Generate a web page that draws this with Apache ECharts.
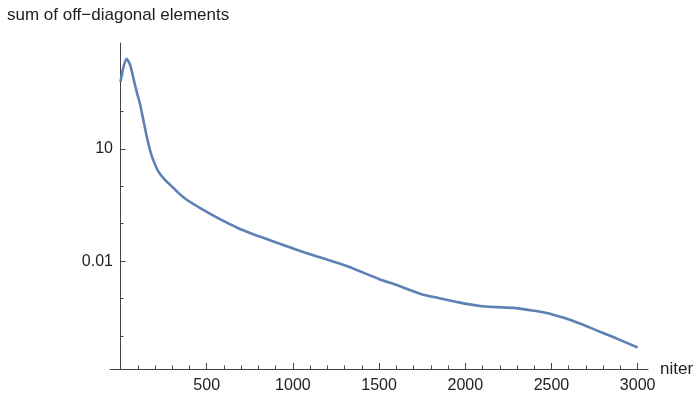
<!DOCTYPE html>
<html>
<head>
<meta charset="utf-8">
<script src="https://cdn.jsdelivr.net/npm/echarts@6/dist/echarts.min.js"></script>
<style>html,body{margin:0;padding:0;background:#fff}#c{width:699px;height:394px}</style>
</head>
<body>
<div id="c"></div>
<script>
const niter = [0, 15, 35, 55, 84, 97, 113, 132, 152, 171, 190, 219, 258, 306, 334, 384, 480, 577, 674, 770, 867, 964, 1043, 1157, 1312, 1505, 1590, 1737, 1850, 1969, 2085, 2180, 2278, 2375, 2472, 2568, 2665, 2762, 2858, 3000];
const offDiagSum = [617, 1413, 2570, 1778, 513, 295, 158, 60.3, 21.4, 9.33, 5.01, 2.51, 1.48, 0.912, 0.676, 0.437, 0.234, 0.132, 0.0794, 0.0525, 0.0363, 0.0251, 0.0186, 0.0126, 0.00741, 0.00324, 0.0024, 0.00135, 0.00102, 0.000776, 0.000631, 0.000589, 0.000562, 0.00049, 0.000412, 0.000309, 0.000214, 0.000141, 0.0000933, 0.000049];
const xMajorTicks = [0, 500, 1000, 1500, 2000, 2500, 3000];
const xLabelTicks = [500, 1000, 1500, 2000, 2500, 3000];
const xMinorTicks = [100,200,300,400,600,700,800,900,1100,1200,1300,1400,1600,1700,1800,1900,2100,2200,2300,2400,2600,2700,2800,2900];
const yLabelValues = [10, 0.01];
const yMinorValues = [1000, 100, 1, 0.1, 0.001, 0.0001];
const yLabelText = {"1": "10", "-2": "0.01"};

const lg = v => Math.log10(v);
const seriesData = niter.map((n, i) => [n, lg(offDiagSum[i])]);
const axisColor = '#444';
const font = 'Liberation Sans, Arial, sans-serif';
const yMin = -4.884, yMax = 3.83;
const xMin = -61, xMax = 3060;

const chart = echarts.init(document.getElementById('c'), null, {renderer: 'canvas'});
chart.setOption({
  animation: false,
  backgroundColor: '#fff',
  grid: {left: 110, right: 51, top: 43, bottom: 25, containLabel: false},
  title: {text: 'sum of off\u2212diagonal elements', left: 2, top: 2,
    textStyle: {fontFamily: font, fontSize: 17, fontWeight: 'normal', color: '#222'}},
  xAxis: [{
    type: 'value', min: xMin, max: xMax,
    name: 'niter', nameLocation: 'end', nameGap: 12,
    nameTextStyle: {fontFamily: font, fontSize: 17, color: '#222', verticalAlign: 'middle', align: 'left', padding: [8, 0, 0, 0]},
    axisLine: {onZero: false, lineStyle: {color: axisColor, width: 1}},
    axisTick: {inside: true, length: 6, customValues: xMajorTicks, lineStyle: {color: axisColor}},
    axisLabel: {customValues: xLabelTicks, fontFamily: font, fontSize: 16, color: '#222', margin: 9,
      formatter: v => String(v)},
    splitLine: {show: false}
  }, {
    type: 'value', min: xMin, max: xMax, position: 'bottom',
    axisLine: {show: false, onZero: false},
    axisTick: {inside: true, length: 3.5, customValues: xMinorTicks, lineStyle: {color: axisColor}},
    axisLabel: {show: false},
    splitLine: {show: false}
  }],
  yAxis: [{
    type: 'value', min: yMin, max: yMax,
    axisLine: {onZero: true, lineStyle: {color: axisColor, width: 1}},
    axisTick: {inside: true, length: 5, customValues: yLabelValues.map(lg), lineStyle: {color: axisColor}},
    axisLabel: {customValues: yLabelValues.map(lg), fontFamily: font, fontSize: 16, color: '#222', margin: -3,
      formatter: v => yLabelText[String(Math.round(v))] || ''},
    splitLine: {show: false}
  }, {
    type: 'value', min: yMin, max: yMax, position: 'left',
    axisLine: {show: false, onZero: true},
    axisTick: {inside: true, length: 3, customValues: yMinorValues.map(lg), lineStyle: {color: axisColor}},
    axisLabel: {show: false},
    splitLine: {show: false}
  }],
  series: [{
    type: 'line', xAxisIndex: 0, yAxisIndex: 0,
    data: seriesData, smooth: 0.25, showSymbol: false,
    lineStyle: {color: '#5E81B5', width: 2.6}
  }]
});
</script>
</body>
</html>
